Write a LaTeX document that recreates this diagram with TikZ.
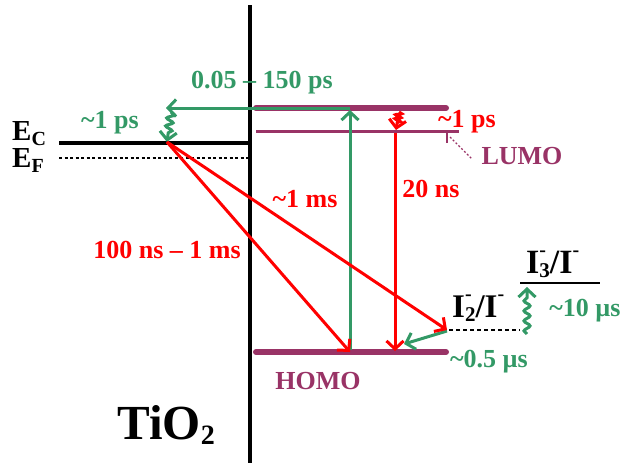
\documentclass[tikz,border=0pt]{standalone}
\usepackage{fontspec}
\setmainfont{Liberation Serif}
\usetikzlibrary{arrows.meta,decorations.pathmorphing}
\definecolor{grn}{RGB}{51,153,102}
\definecolor{prp}{RGB}{153,51,102}
\definecolor{rd}{RGB}{255,0,0}
\newcommand\tl{\textasciitilde}
\newcommand\ionlbl[1]{I\rlap{\raisebox{0.5em}{\fontsize{20}{20}\selectfont -}}\raisebox{-0.14em}{\fontsize{21}{21}\selectfont #1}/I\raisebox{0.5em}{\fontsize{20}{20}\selectfont -}}
\newcommand\lowsub[1]{\raisebox{-0.2em}{\fontsize{20}{20}\selectfont #1}}
\begin{document}
\begin{tikzpicture}[x=1pt,y=-1pt,
  lbl/.style={font=\fontsize{26}{26}\selectfont\bfseries, inner sep=0pt},
  big/.style={font=\fontsize{34}{34}\selectfont\bfseries, inner sep=0pt},
  tip/.style={-{Straight Barb[length=8pt,width=17pt]}},
  arr/.style={line width=3pt, tip},
  lev/.style={prp, line width=6pt},
  wig/.style={decorate, decoration={snake, amplitude=3.5pt, segment length=8pt, post length=7pt}},
]
\useasboundingbox (0,0) rectangle (622,463);
% axes and levels
\coordinate (vt) at (250,5); \coordinate (vb) at (250,463);
\draw[line width=3.2pt] (vt) -- (vb);
\coordinate (ecL) at (59,143); \coordinate (ecR) at (250,143);
\coordinate (efL) at (59,158); \coordinate (efR) at (250,158);
\draw[line width=3.2pt] (ecL) -- (ecR);
\draw[line width=1.6pt, dash pattern=on 3pt off 2.5pt] (efL) -- (efR);
\coordinate (tL) at (256,108); \coordinate (tR) at (446,108);
\draw[lev, line cap=round] (tL) -- (tR);
\coordinate (lL) at (256,131); \coordinate (lR) at (459,131);
\draw[prp, line width=3pt] (lL) -- (lR);
\coordinate (hL) at (256,352); \coordinate (hR) at (446,352);
\draw[lev, line cap=round] (hL) -- (hR);
\coordinate (tk1) at (447,131); \coordinate (tk2) at (447,143);
\draw[prp, line width=1.2pt] (tk1) -- (tk2);
\coordinate (ld1) at (450,137); \coordinate (ld2) at (472,159);
\draw[prp, line width=1.2pt, dash pattern=on 2pt off 2pt] (ld1) -- (ld2);
\coordinate (i2L) at (449,330); \coordinate (i2R) at (520,330);
\draw[line width=2.2pt, dash pattern=on 4pt off 3pt] (i2L) -- (i2R);
\coordinate (i3L) at (520,283); \coordinate (i3R) at (600,283);
\draw[line width=2.4pt] (i3L) -- (i3R);
% points
\coordinate (ghb) at (350,350); \coordinate (ght) at (350,110);
\coordinate (gh1) at (350,108); \coordinate (gleft) at (166,108);
\coordinate (sq1) at (171,112); \coordinate (ec1) at (167,142);
\coordinate (rl) at (395,133); \coordinate (rh) at (395,351);
\coordinate (rs1) at (399,112); \coordinate (rs2) at (396,130);
\coordinate (hm) at (350,352); \coordinate (i2a) at (447,330);
\coordinate (g2a) at (447,331); \coordinate (g2b) at (404,344);
\coordinate (gs3a) at (527,334); \coordinate (gs3b) at (527,287);
% green arrows
\draw[grn, arr] (ghb) -- (ght);
\draw[grn, arr] (gh1) -- (gleft);
\draw[grn, arr, wig] (sq1) -- (ec1);
\draw[grn, arr] (g2a) -- (g2b);
\draw[grn, arr, wig, decoration={amplitude=3pt, segment length=10pt, post length=6pt}] (gs3a) -- (gs3b);
% red arrows
\draw[rd, arr] (ec1) -- (hm);
\draw[rd, arr] (ec1) -- (i2a);
\draw[rd, arr] (rl) -- (rh);
\draw[rd, arr, wig, decoration={amplitude=3pt, segment length=4pt, post length=6pt}] (rs1) -- (rs2);
% labels
\node[lbl, grn] (l1) at (262,83) {0.05 -- 150 ps};
\node[lbl, grn] (l2) at (110,123) {\tl1 ps};
\node[lbl, rd] (l3) at (467,122) {\tl1 ps};
\node[lbl, prp] (l4) at (522,156) {LUMO};
\node[lbl, prp] (l5) at (318,381) {HOMO};
\node[lbl, rd] (l6) at (305,199) {\tl1 ms};
\node[lbl, rd] (l7) at (431,189) {20 ns};
\node[lbl, rd] (l8) at (167,250) {100 ns -- 1 ms};
\node[lbl, grn] (l9) at (489,362) {\tl0.5 µs};
\node[lbl, grn] (l10) at (585,311) {\tl10 µs};
\node[inner sep=0pt, anchor=base west, font=\fontsize{29}{29}\selectfont\bfseries] (ec) at (12,140) {E\lowsub{C}};
\node[inner sep=0pt, anchor=base west, font=\fontsize{29}{29}\selectfont\bfseries] (ef) at (12,167) {E\lowsub{F}};
\node[big, anchor=base west] (i3) at (526,273) {\ionlbl{3}};
\node[big, anchor=base west, font=\fontsize{33}{33}\selectfont\bfseries] (i2) at (452,317) {\ionlbl{2}};
\node[font=\fontsize{49}{49}\selectfont\bfseries, inner sep=0pt] (tio) at (166,425) {TiO\raisebox{-0.12em}{\fontsize{28}{28}\selectfont 2}};
\end{tikzpicture}
\end{document}
